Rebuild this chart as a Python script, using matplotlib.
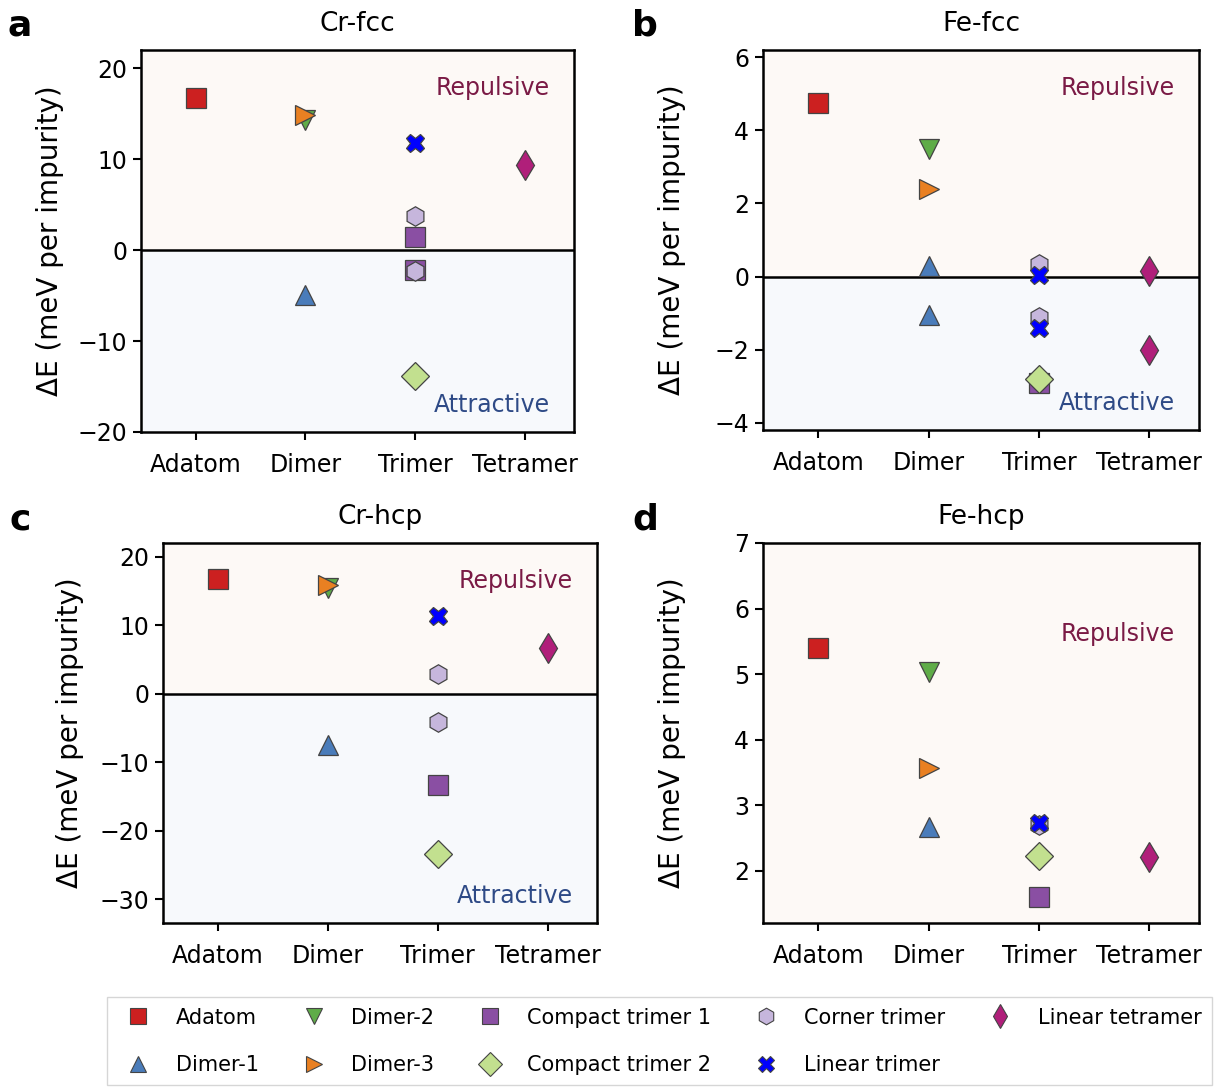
import numpy as np
import matplotlib.pyplot as plt
from matplotlib.lines import Line2D

groups = ["Adatom", "Dimer", "Trimer", "Tetramer"]

# species: name, group index, marker, colour
species = ["Adatom", "Dimer-1", "Dimer-2", "Dimer-3", "Compact trimer 1",
           "Compact trimer 2", "Corner trimer", "Linear trimer", "Linear tetramer"]
species_group = [0, 1, 1, 1, 2, 2, 2, 2, 3]
markers = ["s", "^", "v", ">", "s", "D", "h", "X", "d"]
colors = ["#cc2020", "#4a7cba", "#5fac48", "#e98022", "#8a4fa3",
          "#c2e08f", "#c6b6dc", "#0000ff", "#b01f7a"]
msizes = [14, 14, 14, 14, 14, 14, 14, 13, 15]

# values per species (lists because some configurations have two entries)
cr_fcc = [[16.7], [-4.9], [14.3], [14.8], [1.4, -2.2], [-13.8], [3.8, -2.3], [11.8], [9.4]]
fe_fcc = [[4.75], [0.3, -1.05], [3.5], [2.4], [-2.9], [-2.8], [0.35, -1.1], [0.05, -1.4], [0.15, -2.0]]
cr_hcp = [[16.8], [-7.5], [15.5], [15.8], [-13.3], [-23.4], [2.8, -4.1], [11.3], [6.6]]
fe_hcp = [[5.39], [2.67], [5.03], [3.56], [1.6], [2.22], [2.7], [2.73], [2.2]]

panels = [
    ("a", "Cr-fcc", cr_fcc, (-20, 22), [-20, -10, 0, 10, 20], True),
    ("b", "Fe-fcc", fe_fcc, (-4.2, 6.2), [-4, -2, 0, 2, 4, 6], True),
    ("c", "Cr-hcp", cr_hcp, (-33.5, 22), [-30, -20, -10, 0, 10, 20], True),
    ("d", "Fe-hcp", fe_hcp, (1.2, 7.0), [2, 3, 4, 5, 6, 7], False),
]

W, H = 1219, 1087
# axes boxes in pixels: left, right, top, bottom
boxes = [(141, 574, 50, 432), (763, 1199, 50, 430),
         (163, 597, 543, 923), (763, 1199, 543, 923)]
# panel letter positions in figure pixels (x, y from top)
letter_xy = [(20, 25), (645, 25), (20, 520), (645, 520)]
ylabel_x = [64, 686, 84, 686]

rep_bg = "#fdf9f6"
att_bg = "#f7f9fc"
rep_txt = "#7a1a45"
att_txt = "#2e4a86"

plt.rcParams['font.family'] = 'DejaVu Sans'
fig = plt.figure(figsize=(W / 100, H / 100), dpi=100)

for i, (letter, title, vals, ylim, yticks, attr) in enumerate(panels):
    l, r, t, b = boxes[i]
    ax = fig.add_axes([l / W, 1 - b / H, (r - l) / W, (b - t) / H])
    ax.axhspan(0, ylim[1], color=rep_bg, zorder=0, lw=0)
    if ylim[0] < 0:
        ax.axhspan(ylim[0], 0, color=att_bg, zorder=0, lw=0)
        ax.axhline(0, color="k", lw=1.8, zorder=1)
    for k in range(len(species)):
        x = [species_group[k]] * len(vals[k])
        ax.plot(x, vals[k], ls="none", marker=markers[k], color=colors[k],
                ms=msizes[k], mec="#444444", mew=0.9, zorder=3)
    ax.set_xlim(-0.5, 3.45)
    ax.set_ylim(*ylim)
    ax.set_yticks(yticks)
    ax.set_xticks(range(len(groups)))
    ax.set_xticklabels(groups)
    ax.tick_params(labelsize=17, width=1.5, length=6, pad=4)
    ax.tick_params(axis="x", pad=9)
    for s in ax.spines.values():
        s.set_linewidth(1.8)
    ax.set_ylabel("ΔE (meV per impurity)", fontsize=20)
    ax.yaxis.set_label_coords((ylabel_x[i] - l) / (r - l), 0.5)
    ax.set_title(title, fontsize=19, pad=14)
    lx, ly = letter_xy[i]
    fig.text(lx / W, 1 - ly / H, letter, fontsize=26, fontweight="bold",
             ha="center", va="center")
    ax.text(0.945, 0.9 if attr else 0.76, "Repulsive", transform=ax.transAxes,
            color=rep_txt, fontsize=17, ha="right", va="center")
    if attr:
        ax.text(0.945, 0.07, "Attractive", transform=ax.transAxes,
                color=att_txt, fontsize=17, ha="right", va="center")

handles = [Line2D([], [], ls="none", marker=markers[k], color=colors[k],
                  ms=12, mec="#444444", mew=0.8) for k in range(len(species))]
fig.legend(handles, species, loc="lower center", bbox_to_anchor=(0.541, -0.008),
           ncol=5, fontsize=15, frameon=True, fancybox=False, edgecolor="#cccccc",
           columnspacing=1.65, handletextpad=0.8, borderpad=0.5, labelspacing=1.3)

fig.savefig("out.png", dpi=100)
